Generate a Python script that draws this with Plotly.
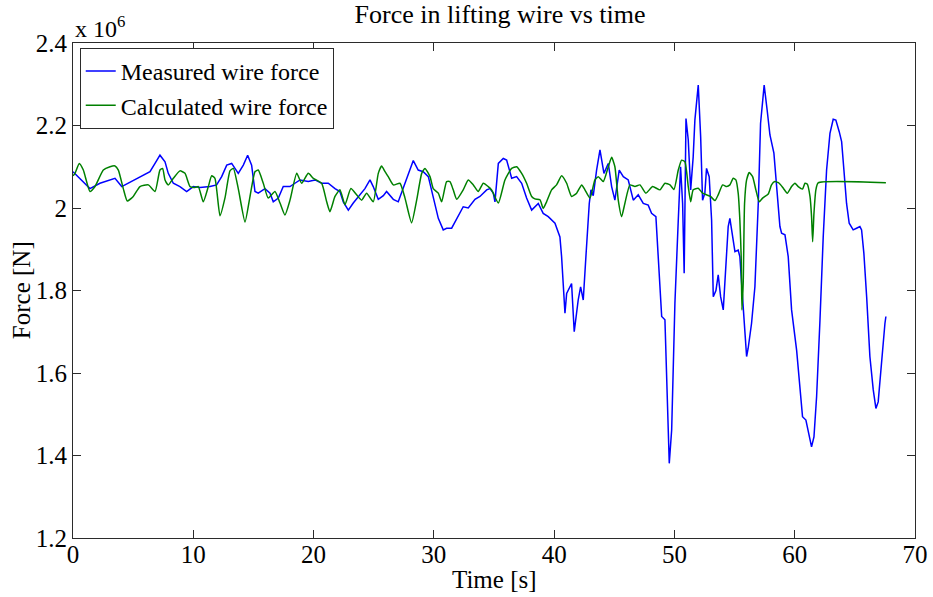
import plotly.graph_objects as go

# Measured wire force (time in s, force in 10^6 N)
t_measured = [
    0.0, 0.58, 1.41, 2.24, 3.08, 3.49, 4.05, 4.6, 5.29, 5.85, 6.4, 6.82, 7.23, 7.65, 7.92,
    8.34, 8.89, 9.45, 10.0, 10.56, 11.39, 11.94, 12.36, 12.78, 13.19, 13.74, 14.16, 14.52,
    14.85, 15.13, 15.4, 15.96, 16.38, 16.65, 17.07, 17.48, 18.04, 18.45, 18.87, 19.56,
    20.12, 20.67, 21.22, 21.78, 22.19, 22.47, 22.89, 23.3, 23.86, 24.27, 24.69, 24.96,
    25.38, 25.8, 26.07, 26.63, 27.04, 27.6, 28.01, 28.29, 28.7, 29.12, 29.54, 29.95,
    30.37, 30.78, 31.06, 31.48, 32.03, 32.44, 32.86, 33.42, 33.83, 34.39, 34.66, 34.94,
    35.08, 35.36, 35.77, 36.05, 36.47, 36.88, 37.3, 37.71, 38.13, 38.68, 39.09, 39.51,
    40.07, 40.48, 40.62, 40.76, 40.9, 41.04, 41.45, 41.67, 42.0, 42.2, 42.42, 42.64,
    42.92, 43.06, 43.25, 43.53, 43.81, 44.14, 44.5, 44.78, 45.05, 45.41, 45.75, 46.16,
    46.58, 46.99, 47.41, 47.82, 48.1, 48.46, 48.65, 48.94, 49.21, 49.35, 49.57, 49.77,
    50.04, 50.32, 50.51, 50.68, 50.81, 50.96, 51.15, 51.35, 51.56, 51.7, 51.98, 52.18,
    52.34, 52.53, 52.67, 52.89, 53.09, 53.23, 53.45, 53.64, 53.84, 54.06, 54.28, 54.47,
    54.61, 54.84, 55.03, 55.3, 55.44, 55.64, 55.86, 56.0, 56.13, 56.41, 56.69, 56.97,
    57.16, 57.46, 57.71, 57.94, 58.27, 58.49, 58.77, 58.91, 59.19, 59.46, 59.74, 60.16,
    60.43, 60.65, 60.93, 61.12, 61.4, 61.6, 61.82, 62.1, 62.37, 62.65, 62.93, 63.2,
    63.42, 63.7, 63.9, 64.09, 64.31, 64.53, 64.86, 65.14, 65.42, 65.56, 65.75, 65.98,
    66.25, 66.53, 66.75, 66.94, 67.22, 67.5, 67.58,
]
f_measured = [
    2.088, 2.072, 2.047, 2.060, 2.068, 2.072, 2.052, 2.060, 2.072, 2.080, 2.088, 2.108, 2.128, 2.112, 2.084,
    2.060, 2.052, 2.040, 2.052, 2.050, 2.052, 2.056, 2.076, 2.104, 2.108, 2.084, 2.104, 2.128,
    2.104, 2.040, 2.036, 2.047, 2.036, 2.015, 2.024, 2.052, 2.052, 2.060, 2.068, 2.064,
    2.068, 2.060, 2.060, 2.047, 2.040, 2.015, 1.995, 2.012, 2.032, 2.047, 2.068, 2.052,
    2.021, 2.030, 2.040, 2.021, 2.015, 2.060, 2.096, 2.115, 2.092, 2.088, 2.076, 2.024,
    1.975, 1.947, 1.951, 1.951, 1.979, 2.003, 2.000, 2.021, 2.028, 2.044, 2.047, 2.036,
    2.015, 2.108, 2.120, 2.116, 2.072, 2.076, 2.060, 2.024, 1.995, 2.011, 1.987, 1.979,
    1.963, 1.930, 1.882, 1.801, 1.745, 1.793, 1.817, 1.700, 1.777, 1.809, 1.777, 1.882,
    2.011, 2.044, 2.030, 2.092, 2.141, 2.084, 2.108, 2.052, 2.019, 2.092, 2.076, 2.068,
    2.019, 2.032, 2.011, 2.007, 1.987, 1.979, 1.890, 1.737, 1.729, 1.567, 1.381, 1.462,
    1.769, 1.971, 2.100, 2.011, 1.842, 2.217, 2.165, 2.044, 2.124, 2.213, 2.298, 2.173,
    2.019, 2.036, 2.096, 2.076, 1.971, 1.785, 1.800, 1.838, 1.785, 1.753, 1.850, 1.955,
    1.975, 1.930, 1.894, 1.898, 1.882, 1.793, 1.704, 1.640, 1.660, 1.720, 1.809, 2.011,
    2.205, 2.298, 2.237, 2.177, 2.133, 2.060, 1.955, 1.939, 1.935, 1.882, 1.753, 1.655,
    1.555, 1.494, 1.486, 1.462, 1.421, 1.445, 1.543, 1.728, 1.930, 2.092, 2.181, 2.215,
    2.213, 2.185, 2.161, 2.092, 2.011, 1.963, 1.947, 1.951, 1.955, 1.947, 1.890, 1.785,
    1.640, 1.559, 1.514, 1.530, 1.632, 1.720, 1.737,
]

# Calculated wire force (time in s, force in 10^6 N)
t_calculated = [
    0.0, 0.17, 0.52, 0.86, 1.41, 1.83, 2.52, 3.08, 3.49, 3.77, 4.18, 4.51, 5.01, 5.57, 6.26,
    6.82, 7.23, 7.45, 7.65, 7.92, 8.34, 8.89, 9.31, 9.73, 10.14, 10.42, 10.83, 11.25, 11.53,
    11.8, 12.22, 12.64, 13.05, 13.33, 13.74, 14.3, 14.71, 15.13, 15.4, 15.82, 16.23, 16.79,
    17.21, 17.62, 18.04, 18.6, 19.01, 19.56, 19.98, 20.67, 21.09, 21.36, 21.78, 22.19,
    22.61, 23.1, 23.58, 24.0, 24.41, 24.96, 25.38, 25.66, 25.94, 26.21, 26.63, 27.18, 27.6,
    28.15, 28.57, 28.99, 29.26, 29.68, 29.95, 30.37, 30.65, 31.06, 31.34, 31.61, 31.9,
    32.44, 32.86, 33.28, 33.69, 34.11, 34.52, 34.8, 35.36, 35.91, 36.47, 36.88, 37.3,
    37.71, 38.13, 38.4, 38.82, 39.09, 39.37, 39.79, 40.2, 40.62, 41.04, 41.45, 41.87,
    42.29, 42.56, 42.98, 43.39, 43.67, 44.08, 44.5, 44.78, 45.05, 45.33, 45.61, 45.88,
    46.3, 46.72, 47.13, 47.63, 48.19, 48.8, 49.21, 49.63, 49.96, 50.32, 50.6, 50.87,
    51.15, 51.35, 51.56, 51.98, 52.34, 52.67, 53.0, 53.37, 53.64, 54.01, 54.34, 54.61,
    54.89, 55.11, 55.3, 55.44, 55.55, 55.61, 55.72, 55.83, 56.0, 56.22, 56.5, 56.77,
    57.05, 57.33, 57.8, 58.07, 58.35, 58.71, 59.05, 59.38, 59.74, 60.02, 60.29, 60.65,
    60.85, 61.04, 61.27, 61.4, 61.49, 61.6, 61.76, 61.95, 67.58,
]
f_calculated = [
    2.078, 2.084, 2.108, 2.092, 2.040, 2.052, 2.092, 2.100, 2.102, 2.092, 2.047, 2.017, 2.028, 2.052, 2.056,
    2.040, 2.092, 2.096, 2.068, 2.056, 2.072, 2.090, 2.084, 2.052, 2.050, 2.052, 2.015, 2.052, 2.078,
    2.072, 1.981, 2.025, 2.090, 2.096, 2.047, 1.966, 2.027, 2.088, 2.092, 2.060, 2.024, 2.040,
    2.012, 1.983, 2.019, 2.084, 2.060, 2.084, 2.072, 2.060, 2.015, 1.991, 2.028, 2.044,
    2.008, 2.047, 2.032, 2.019, 2.036, 2.015, 2.084, 2.102, 2.088, 2.076, 2.056, 2.060, 2.024,
    1.964, 2.019, 2.084, 2.096, 2.076, 2.047, 2.036, 2.015, 2.064, 2.064, 2.044, 2.021,
    2.044, 2.068, 2.056, 2.040, 2.060, 2.052, 2.044, 2.012, 2.068, 2.096, 2.100, 2.084,
    2.060, 2.028, 2.022, 2.020, 1.999, 2.015, 2.044, 2.056, 2.078, 2.060, 2.028, 2.036,
    2.056, 2.044, 2.024, 2.068, 2.076, 2.064, 2.100, 2.123, 2.100, 2.019, 1.979, 2.011,
    2.056, 2.052, 2.056, 2.036, 2.052, 2.044, 2.060, 2.056, 2.045, 2.092, 2.116, 2.112,
    2.052, 2.015, 2.044, 2.048, 2.036, 2.032, 2.028, 2.018, 2.032, 2.056, 2.052, 2.056,
    2.072, 2.068, 2.036, 1.971, 1.882, 1.753, 1.820, 2.011, 2.068, 2.086, 2.076, 2.044,
    2.015, 2.024, 2.034, 2.056, 2.064, 2.060, 2.048, 2.036, 2.052, 2.060, 2.052, 2.046,
    2.060, 2.058, 2.028, 1.979, 1.918, 1.987, 2.044, 2.061, 2.061,
]

y_ticks = [1.2, 1.4, 1.6, 1.8, 2.0, 2.2, 2.4]
y_tick_text = ["1.2", "1.4", "1.6", "1.8", "2", "2.2", "2.4"]
x_ticks = [0, 10, 20, 30, 40, 50, 60, 70]

FONT = "Liberation Serif, Times New Roman, serif"
AXIS_COLOR = "#2b2b2b"

fig = go.Figure()
fig.add_trace(go.Scatter(
    x=t_measured, y=f_measured, mode="lines", name="Measured wire force",
    line=dict(color="#0000ff", width=1.5),
))
fig.add_trace(go.Scatter(
    x=t_calculated, y=f_calculated, mode="lines", name="Calculated wire force",
    line=dict(color="#008000", width=1.5, shape="spline", smoothing=0.5),
))

axis_common = dict(
    showgrid=False, zeroline=False, showline=True, linecolor=AXIS_COLOR, linewidth=1,
    mirror="ticks", ticks="inside", ticklen=8, tickcolor=AXIS_COLOR, tickwidth=1,
    tickfont=dict(family=FONT, size=25, color="#000000"), automargin=False,
)

fig.update_layout(
    width=933, height=597,
    margin=dict(l=73, r=18, t=43, b=59),
    paper_bgcolor="#ffffff", plot_bgcolor="#ffffff",
    font=dict(family=FONT, color="#000000"),
    title=dict(
        text="Force in lifting wire vs time", x=0.536, xanchor="center",
        y=0.976, yanchor="middle", font=dict(family=FONT, size=26, color="#000000"),
        automargin=False,
    ),
    xaxis=dict(range=[0, 70], tickvals=x_ticks, ticklabelstandoff=-6, **axis_common),
    yaxis=dict(range=[1.2, 2.4], tickvals=y_ticks, ticktext=y_tick_text, **axis_common),
    legend=dict(
        x=0.008, y=0.99, xanchor="left", yanchor="top",
        bgcolor="#ffffff", bordercolor=AXIS_COLOR, borderwidth=1,
        font=dict(family=FONT, size=24, color="#000000"),
        itemwidth=30, tracegroupgap=0,
    ),
    showlegend=True,
    annotations=[
        dict(text="x 10<sup>6</sup>", xref="paper", yref="paper", x=0.0, y=0.998,
             xanchor="left", yanchor="bottom", showarrow=False,
             font=dict(family=FONT, size=24, color="#000000")),
        dict(text="Time [s]", xref="paper", yref="paper", x=0.5, y=-0.053,
             xanchor="center", yanchor="top", showarrow=False,
             font=dict(family=FONT, size=25, color="#000000")),
        dict(text="Force [N]", xref="paper", yref="paper", x=-0.061, y=0.5,
             xanchor="center", yanchor="middle", textangle=-90, showarrow=False,
             font=dict(family=FONT, size=25, color="#000000")),
    ],
)

fig.write_html("out.html")
